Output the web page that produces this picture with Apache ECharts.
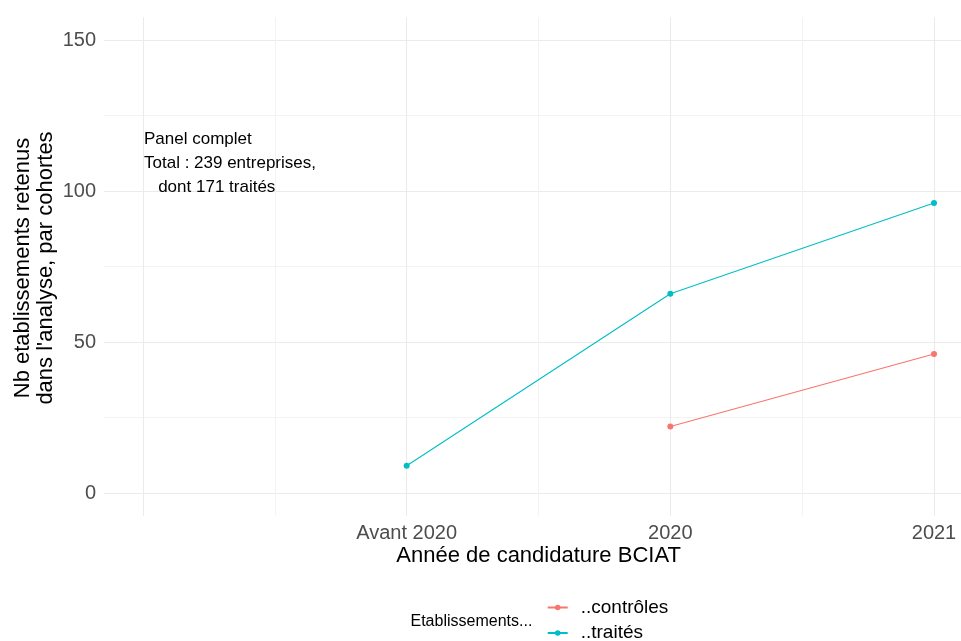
<!DOCTYPE html>
<html>
<head>
<meta charset="utf-8">
<script src="https://cdn.jsdelivr.net/npm/echarts@6/dist/echarts.min.js"></script>
<style>
  html, body { margin: 0; padding: 0; background: #ffffff; }
  #chart { width: 961px; height: 641px; }
</style>
</head>
<body>
<div id="chart"></div>
<script>
// Cohort positions on the x axis (first slot is left blank for the note)
const cohortLabels = ['', 'Avant 2020', '2020', '2021'];
// Number of establishments kept per cohort
const traites = [null, 9, 66, 96];
const controles = [null, null, 22, 46];
// Y axis ticks
const yTicks = [0, 50, 100, 150];

const FONT = '"Liberation Sans", Arial, Helvetica, sans-serif';
const GRID_MAJOR = '#EBEBEB';
const GRID_MINOR = '#F3F3F3';

function toPairs(values) {
  const out = [];
  values.forEach(function (v, i) { if (v !== null) out.push([i, v]); });
  return out;
}

function legendBlock(name, top) {
  return {
    orient: 'vertical',
    left: 546.7,
    top: top,
    padding: 0,
    itemWidth: 20,
    itemHeight: 7,
    data: [name],
    textStyle: { fontSize: 19, fontFamily: FONT, color: '#000000', lineHeight: 14, padding: [0, 0, 0, 8] }
  };
}

const chart = echarts.init(document.getElementById('chart'), null, { renderer: 'canvas' });

const option = {
  backgroundColor: '#ffffff',
  animation: false,
  grid: [
    // data panel: x spans the cohorts, y spans the padded range
    { left: 143, right: 27, top: 17.35, bottom: 125.35, containLabel: false },
    // value scale for the horizontal guides and labels
    { left: 103.6, right: -12.6, top: 40, bottom: 148, containLabel: false }
  ],
  xAxis: [
    {
      gridIndex: 0, type: 'value', min: 0, max: cohortLabels.length - 1, interval: 1,
      axisLine: { show: false, onZero: false }, axisTick: { show: false },
      axisLabel: {
        show: true, color: '#4D4D4D', fontSize: 20, fontFamily: FONT, margin: 8,
        showMinLabel: true, showMaxLabel: true,
        formatter: function (v) { return Number.isInteger(v) ? (cohortLabels[v] || '') : ''; }
      },
      splitLine: { show: true, lineStyle: { color: GRID_MAJOR, width: 1.1 } },
      minorTick: { show: false, splitNumber: 2 },
      minorSplitLine: { show: true, lineStyle: { color: GRID_MINOR, width: 1 } }
    },
    {
      gridIndex: 1, type: 'value', min: 0, max: 1, show: false
    }
  ],
  yAxis: [
    {
      gridIndex: 0, type: 'value', min: -7.5, max: 157.5, show: false,
      splitLine: { show: false }
    },
    {
      gridIndex: 1, type: 'value', min: yTicks[0], max: yTicks[yTicks.length - 1], interval: 50,
      axisLine: { show: false }, axisTick: { show: false },
      axisLabel: { color: '#4D4D4D', fontSize: 20, fontFamily: FONT, margin: 7.6 },
      splitLine: { show: true, lineStyle: { color: GRID_MAJOR, width: 1.1 } },
      minorTick: { show: false, splitNumber: 2 },
      minorSplitLine: { show: true, lineStyle: { color: GRID_MINOR, width: 1 } }
    }
  ],
  legend: [
    legendBlock('..contrôles', 598),
    legendBlock('..traités', 623.5)
  ],
  series: [
    {
      name: '..contrôles', type: 'line', xAxisIndex: 0, yAxisIndex: 0,
      data: toPairs(controles),
      color: '#F8766D',
      symbol: 'circle', symbolSize: 6, showSymbol: true,
      lineStyle: { width: 1.1, color: '#F8766D' },
      itemStyle: { color: '#F8766D' }
    },
    {
      name: '..traités', type: 'line', xAxisIndex: 0, yAxisIndex: 0,
      data: toPairs(traites),
      color: '#00BFC4',
      symbol: 'circle', symbolSize: 6, showSymbol: true,
      lineStyle: { width: 1.1, color: '#00BFC4' },
      itemStyle: { color: '#00BFC4' }
    }
  ],
  graphic: [
    {
      type: 'text', left: 144, top: 127, z: 20,
      style: {
        text: 'Panel complet\nTotal : 239 entreprises,\n   dont 171 traités',
        font: '17px ' + FONT, fill: '#000000', lineHeight: 24
      }
    },
    {
      type: 'text', x: 538.6, y: 556, z: 20,
      style: {
        text: 'Année de candidature BCIAT',
        font: '22px ' + FONT, fill: '#000000', align: 'center', verticalAlign: 'middle'
      }
    },
    {
      type: 'text', x: 34, y: 268, rotation: Math.PI / 2, z: 20,
      style: {
        text: 'Nb etablissements retenus\ndans l\'analyse, par cohortes',
        font: '22px ' + FONT, fill: '#000000', align: 'center', verticalAlign: 'middle',
        lineHeight: 23
      }
    },
    {
      type: 'text', x: 410.5, y: 621.5, z: 20,
      style: {
        text: 'Etablissements...',
        font: '16px ' + FONT, fill: '#000000', verticalAlign: 'middle'
      }
    }
  ]
};

chart.setOption(option);
</script>
</body>
</html>
